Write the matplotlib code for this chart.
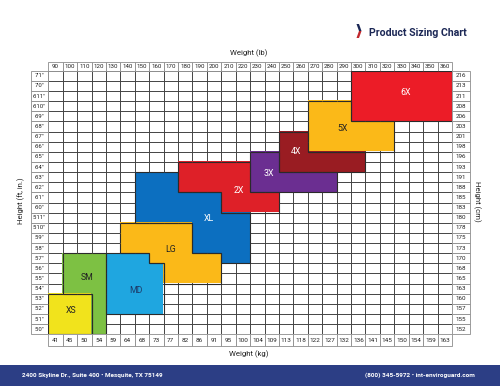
import numpy as np
import matplotlib
matplotlib.use("Agg")
import matplotlib.pyplot as plt
from matplotlib.patches import Rectangle, Polygon
from matplotlib.collections import LineCollection
from matplotlib.colors import to_rgba

plt.rcParams['font.family'] = ['Roboto', 'DejaVu Sans']

# weight columns (lb) and matching kg
lb_cols = [90, 100, 110, 120, 130, 140, 150, 160, 170, 180, 190, 200, 210, 220,
           230, 240, 250, 260, 270, 280, 290, 300, 310, 320, 330, 340, 350, 360]
kg_cols = [41, 45, 50, 54, 59, 64, 68, 73, 77, 82, 86, 91, 95, 100,
           104, 109, 113, 118, 122, 127, 132, 136, 141, 145, 150, 154, 159, 163]

# height rows, bottom to top (inches)
height_in = list(range(60, 86))
height_lbl = [f"{h // 12}'{h % 12}\"" for h in height_in]
cm_rows = [152, 155, 157, 160, 163, 165, 168, 170, 173, 175, 178, 180, 183,
           185, 188, 191, 193, 196, 198, 201, 203, 206, 208, 211, 213, 216]

# sizes: (lb from, lb to, height in from, height in to), drawn low -> high priority
size_names = ["XL", "SM", "XS", "MD", "LG", "2X", "3X", "4X", "5X", "6X"]
size_ranges = {
    "XS": [(90, 110, 60, 63)],
    "SM": [(100, 120, 60, 67)],
    "MD": [(130, 160, 62, 67)],
    "LG": [(140, 180, 68, 70), (160, 200, 67, 67), (170, 200, 65, 66)],
    "XL": [(150, 220, 67, 75)],
    "2X": [(180, 240, 74, 76), (210, 240, 72, 73)],
    "3X": [(230, 280, 74, 77)],
    "4X": [(250, 300, 76, 79)],
    "5X": [(270, 320, 78, 82)],
    "6X": [(300, 360, 81, 85)],
}
size_colors = {
    "XS": "#f1e31c", "SM": "#7dc143", "MD": "#1fa6e0", "LG": "#fbb918",
    "XL": "#0c6fc0", "2X": "#de2028", "3X": "#6b2e91", "4X": "#991c22",
    "5X": "#fbb918", "6X": "#ec1c27",
}
text_colors = {
    "XS": "#222222", "SM": "#222222", "MD": "#1d3b6a", "LG": "#222222",
    "XL": "white", "2X": "white", "3X": "white", "4X": "white",
    "5X": "#222222", "6X": "white",
}
# label positions in cell units (col, row)
label_pos = {
    "XS": (1.58, 2.3), "SM": (2.67, 5.65), "MD": (6.05, 4.3), "LG": (8.5, 8.35),
    "XL": (11.15, 11.4), "2X": (13.2, 14.2), "3X": (15.3, 15.85),
    "4X": (17.2, 18.0), "5X": (20.4, 20.25), "6X": (24.8, 23.85),
}

ncol = len(lb_cols)
nrow = len(height_in)

fig = plt.figure(figsize=(5.0, 3.86), dpi=100)
ax = fig.add_axes([48.3 / 500, 1 - 334.3 / 386, (452 - 48.3) / 500, (334.3 - 70.7) / 386])
ax.set_xlim(0, ncol)
ax.set_ylim(0, nrow)
ax.axis('off')

# grid
ax.vlines(range(ncol + 1), 0, nrow, color='#444444', lw=0.7, zorder=1)
ax.hlines(range(nrow + 1), 0, ncol, color='#444444', lw=0.7, zorder=1)

# which size owns each cell
owner = {}
for name in size_names:
    for w0, w1, h0, h1 in size_ranges[name]:
        for c in range(lb_cols.index(w0), lb_cols.index(w1) + 1):
            for r in range(height_in.index(h0), height_in.index(h1) + 1):
                owner[(c, r)] = name

img = np.zeros((nrow, ncol, 4))
for (c, r), name in owner.items():
    img[nrow - 1 - r, c] = to_rgba(size_colors[name])
ax.imshow(img, extent=(0, ncol, 0, nrow), interpolation='nearest', aspect='auto', zorder=2)

segs = []
for (c, r), name in owner.items():
    if owner.get((c - 1, r)) != name:
        segs.append([(c, r), (c, r + 1)])
    if owner.get((c + 1, r)) != name:
        segs.append([(c + 1, r), (c + 1, r + 1)])
    if owner.get((c, r - 1)) != name:
        segs.append([(c, r), (c + 1, r)])
    if owner.get((c, r + 1)) != name:
        segs.append([(c, r + 1), (c + 1, r + 1)])
ax.add_collection(LineCollection(segs, colors='#2a2a2a', linewidths=0.8, zorder=3))

for name in size_names:
    x, y = label_pos[name]
    ax.text(x, y, name, ha='center', va='center', fontsize=6.3, color=text_colors[name], zorder=4)

# label cells
cell_kw = dict(facecolor='white', edgecolor='#8c8c8c', lw=0.6, clip_on=False, zorder=1)
lab_w = 1.23
top_h = 0.86
bot_h = 1.2
for i in range(ncol):
    ax.add_patch(Rectangle((i, nrow), 1, top_h, **cell_kw))
    ax.text(i + 0.5, nrow + top_h / 2, str(lb_cols[i]), ha='center', va='center', fontsize=4.4, color='#222')
    ax.add_patch(Rectangle((i, -bot_h), 1, bot_h, **cell_kw))
    ax.text(i + 0.5, -bot_h / 2, str(kg_cols[i]), ha='center', va='center', fontsize=4.6, color='#222')
for j in range(nrow):
    ax.add_patch(Rectangle((-lab_w, j), lab_w, 1, **cell_kw))
    ax.text(-lab_w / 2, j + 0.5, height_lbl[j], ha='center', va='center', fontsize=4.3, color='#222')
    ax.add_patch(Rectangle((ncol, j), 1.28, 1, **cell_kw))
    ax.text(ncol + 0.64, j + 0.5, str(cm_rows[j]), ha='center', va='center', fontsize=4.5, color='#222')

# axis titles
fig.text(0.498, 1 - 52.7 / 386, "Weight (lb)", ha='center', va='center', fontsize=5.6, color='#222')
fig.text(0.498, 1 - 354.5 / 386, "Weight (kg)", ha='center', va='center', fontsize=5.6, color='#222')
fig.text(20.7 / 500, 1 - 201 / 386, "Height (ft, in.)", ha='center', va='center', rotation=90,
         fontsize=5.6, color='#222')
fig.text(477 / 500, 1 - 201 / 386, "Height (cm)", ha='center', va='center', rotation=-90,
         fontsize=5.6, color='#222')

# header
fig.text(369 / 500, 1 - 33.3 / 386, "Product Sizing Chart", ha='left', va='center',
         fontsize=7.6, fontweight='bold', color='#1b2755')
fig.patches.append(Polygon([(356.5 / 500, 1 - 24 / 386), (359 / 500, 1 - 24 / 386),
                            (361.5 / 500, 1 - 31 / 386), (359 / 500, 1 - 31 / 386)],
                           closed=True, transform=fig.transFigure, facecolor='#1b2755', edgecolor='none'))
fig.patches.append(Polygon([(359 / 500, 1 - 31 / 386), (361.5 / 500, 1 - 31 / 386),
                            (359 / 500, 1 - 38 / 386), (356.5 / 500, 1 - 38 / 386)],
                           closed=True, transform=fig.transFigure, facecolor='#c1272d', edgecolor='none'))

# footer band
fig.patches.append(Rectangle((0, 0), 1, 21 / 386, transform=fig.transFigure,
                             facecolor='#2c3e85', edgecolor='none'))
fig.text(22.5 / 500, 10.5 / 386, "2400 Skyline Dr., Suite 400 \u2022 Mesquite, TX 75149", ha='left',
         va='center', fontsize=4.6, fontweight='bold', color='white')
fig.text(475 / 500, 10.5 / 386, "(800) 345-5972 \u2022 int-enviroguard.com", ha='right',
         va='center', fontsize=4.6, fontweight='bold', color='white')

fig.savefig("out.png", dpi=100)
